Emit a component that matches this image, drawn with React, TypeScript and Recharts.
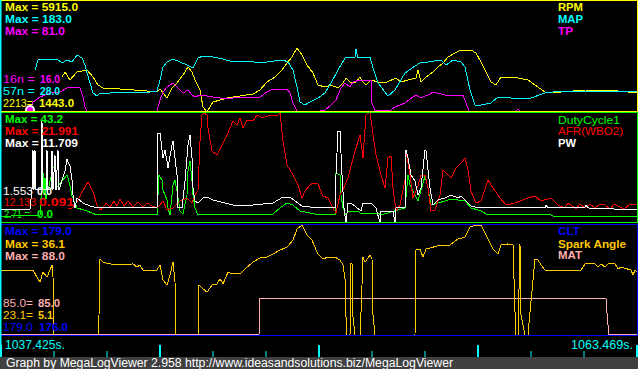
import { LineChart, Line, XAxis, YAxis } from "recharts";

type P = [number, number][];

// x = log record (about 0.082 s each), value in the channel's own units
const RPM: P = [
  [31, 3885], [32.5, 4235], [35, 3675], [38.5, 4235], [43.5, 4375], [46.5, 3885], [49, 3325], [51.5, 3115],
  [60, 3045], [73.5, 2905], [78.5, 2835], [80, 3045], [83.5, 2415], [86, 3115], [88.5, 3465], [91.5, 4025],
  [94, 4585], [96, 4235], [97.5, 3675], [100, 2975], [101.5, 1785], [103.5, 1435], [105, 1785], [106.5, 2135],
  [110, 2275], [113.5, 2415], [116.5, 2485], [126.5, 2695], [130, 2975], [133.5, 3535], [137.5, 3885],
  [141, 4375], [143.5, 4865], [146, 5285], [148.5, 5915], [151, 5425], [153.5, 4725], [156.5, 4165],
  [159, 3325], [162.5, 3185], [165.5, 3325], [169, 3115], [171.5, 3465], [173, 3815], [175, 3535],
  [177.5, 3465], [180, 3885], [181.5, 3535], [183, 3325], [185.5, 3675], [189, 3535], [192.5, 3465],
  [198, 3815], [200.5, 3535], [204, 3675], [208, 3815], [209, 4375], [210.5, 3535], [213, 3885], [216.5, 4235],
  [219, 4585], [221.5, 4865], [224, 5285], [227.5, 5565], [230.5, 5775], [235.5, 5775], [238, 5565],
  [240.5, 4935], [243, 4235], [245.5, 3535], [248, 3325], [250.5, 3885], [253, 3885], [259, 3815], [264, 3675],
  [267.5, 3325], [272.5, 2835], [280.5, 2835], [292.5, 2975], [309, 2905], [318.5, 2765],
];

const MAP: P = [
  [17.5, 128], [19, 154], [25, 156.6], [29, 154], [31, 146.2], [33.5, 154], [36, 148.8], [38.5, 167],
  [41, 159.2], [42.5, 141], [43.5, 120.2], [45, 94.2], [46.5, 68.2], [48.5, 60.4], [50, 68.2], [55, 68.2],
  [60, 70.8], [66.5, 70.8], [72, 68.2], [78.5, 73.4], [80, 102], [81.5, 135.8], [83.5, 148.8], [86.5, 156.6],
  [90, 148.8], [93.5, 141], [96.5, 133.2], [99, 159.2], [101.5, 164.4], [106.5, 161.8], [111.5, 156.6],
  [116.5, 148.8], [122, 151.4], [127, 148.8], [133.5, 148.8], [137, 151.4], [141.5, 154], [144, 148.8],
  [146.5, 128], [148.5, 83.8], [150, 44.8], [152.5, 37], [155, 44.8], [159, 55.2], [162.5, 68.2], [165.5, 94.2],
  [169, 128], [172.5, 159.2], [177.5, 161.8], [178, 182.6], [179, 159.2], [185, 161.8], [186.5, 133.2],
  [189, 94.2], [194, 60.4], [197.5, 76], [202.5, 120.2], [207.5, 138.4], [210, 146.2], [214, 148.8],
  [220.5, 154], [223, 141], [226.5, 154], [230.5, 148.8], [232.5, 135.8], [235, 76], [237.5, 37], [240.5, 37],
  [245.5, 42.2], [249, 57.8], [255.5, 55.2], [265.5, 55.2], [272.5, 68.2], [280.5, 73.4], [292.5, 70.8],
  [305, 73.4], [318.5, 70.8],
];

const TP: P = [
  [15, 2.6], [16.5, 23.4], [20, 36.4], [25, 46.8], [30, 49.4], [33.5, 59.8], [38.5, 62.4], [40, 59.8],
  [41.5, 36.4], [42.5, 10.4], [43.5, 0], [78.5, 0], [80, 28.6], [81.5, 49.4], [83.5, 62.4], [86.5, 72.8],
  [89, 59.8], [91.5, 46.8], [94, 54.6], [96, 41.6], [97.5, 36.4], [100, 41.6], [106.5, 36.4], [110, 33.8],
  [113.5, 31.2], [116.5, 33.8], [130, 36.4], [133.5, 49.4], [136.5, 57.2], [143.5, 57.2], [145, 46.8],
  [146.5, 20.8], [148.5, 0], [160, 0], [162.5, 2.6], [165.5, 15.6], [168, 28.6], [170.5, 59.8], [172.5, 72.8],
  [175, 62.4], [176.5, 75.4], [180, 80.6], [185.5, 80.6], [186, 20.8], [187.5, 0], [195.5, 2.6], [197.5, 10.4],
  [202.5, 20.8], [206.5, 36.4], [208, 41.6], [210, 33.8], [211.5, 36.4], [215, 44.2], [216.5, 49.4],
  [222.5, 41.6], [231.5, 41.6], [233, 20.8], [234.5, 0], [258, 0], [259, 5], [260, 0], [318.5, 0],
];

const DUTY: P = [
  [0, 2.71], [15, 3.3], [20, 3.3], [21, 17], [21.5, 20.85], [22, 12], [22.5, 18.77], [23, 10], [26.5, 22.9],
  [27.5, 23.8], [28.5, 15], [33.5, 20], [34, 18.77], [35, 15.4], [36, 11.3], [38.5, 6.3], [43.5, 5],
  [48.5, 3.34], [78.5, 3.34], [79.5, 20], [81, 17.9], [81.5, 13.8], [83.5, 9.6], [84, 6.3], [85, 3.34],
  [86.5, 15.8], [87.5, 17.9], [88.5, 13.3], [90, 5], [91.5, 3.75], [93.5, 11.7], [94, 21.7], [95, 25.9],
  [96, 17.5], [96.5, 11.7], [97.5, 6.3], [99, 3.34], [103.5, 3.75], [116.5, 3.34], [136.5, 3.75], [140, 6.3],
  [143.5, 8.3], [146.5, 7.5], [150, 5], [160, 3.34], [167.5, 3.34], [168, 20.85], [170, 20], [170.5, 11.7],
  [171.5, 6.3], [173, 3.34], [174, 5], [179, 5], [180.5, 3.75], [189, 4.2], [190.5, 3.34], [202.5, 6.3],
  [204, 20], [205, 15.8], [206.5, 13.3], [209, 9.2], [212.5, 19.6], [214, 14.6], [215.5, 7.5], [219, 8.3],
  [224, 9.6], [229, 9.6], [232.5, 9.2], [235.5, 6.3], [240.5, 5], [244, 3.34], [275.5, 3.34], [277.5, 2.5],
  [318.5, 2.9],
];

const AFR: P = [
  [34, 12.4], [36, 12.5], [38.5, 13.1], [41, 14.1], [44, 15.1], [46.5, 14.1], [48.5, 12.8], [50, 12.3],
  [51.5, 12.5], [53, 13], [55, 12.6], [57, 13.2], [58.5, 12.7], [60, 13.4], [62, 12.7], [64, 13.2],
  [66.5, 12.6], [69, 13.1], [71.5, 12.6], [73.5, 13], [76, 12.7], [78.5, 12.5], [80, 12.8], [81.5, 13.2],
  [83.5, 12.3], [86.5, 12.5], [90, 13.2], [93.5, 13.5], [96, 13], [97.5, 13.8], [99, 14.2], [100, 19.2],
  [101, 21.8], [102, 22], [103.5, 21.8], [104, 20.5], [106, 18.2], [108.5, 17.8], [111, 18.8], [113.5, 19.8],
  [115, 20.5], [116.5, 21.2], [118.5, 20.8], [120, 21.5], [121.5, 20.5], [123.5, 21.3], [126.5, 21.2],
  [128.5, 21.8], [131.5, 21.5], [135, 21.8], [138.5, 21.7], [140, 22], [141.5, 19.2], [143.5, 16.8],
  [146.5, 15.8], [149, 14.8], [151, 13.5], [152.5, 14.2], [155, 14.8], [156.5, 15], [159, 14.9], [161.5, 13.7],
  [164, 13.5], [166.5, 12.5], [168, 12], [170, 13.8], [171.5, 14.3], [174, 15.5], [177.5, 18.2], [180, 19.8],
  [181.5, 17.5], [183, 21.8], [185, 22.1], [186.5, 19.8], [188, 17.8], [190.5, 15.8], [192.5, 14.5],
  [194, 17.5], [195.5, 17.7], [196.5, 14.5], [198, 12.2], [200, 12.8], [202.5, 15.3], [203, 18.2], [205, 15.8],
  [206.5, 13.5], [209, 14.7], [210.5, 15.8], [212.5, 15.8], [214, 14.5], [215.5, 12.2], [217.5, 12.3],
  [220, 13.8], [221.5, 16.3], [224, 15.8], [225.5, 15.5], [228, 16.5], [230.5, 17], [232.5, 17.5],
  [234, 16.3], [235.5, 14.2], [238, 13], [240.5, 13.2], [244, 15.3], [246.5, 14.5], [250, 13.5], [253, 12.8],
  [257.5, 13], [264, 13.5], [267.5, 13.7], [270.5, 13.2], [275.5, 13.5], [279, 12.8], [282.5, 12.5],
  [284, 13], [285.5, 12.8], [288, 12.4], [290, 12.9], [292.5, 12.5], [295, 12.9], [297.5, 12.5], [300, 12.9],
  [302.5, 12.8], [305, 12.4], [307, 12.9], [309, 12.7], [312, 12.4], [315, 12.9], [318.5, 12.8],
];

const PW: P = [
  [0, 1.55], [15, 1.6], [16, 3.8], [16.5, 8.4], [17, 3.8], [17.5, 8.4], [18, 3.8], [20.5, 3.8], [21, 11.7],
  [21.5, 3.8], [23, 3.8], [23.5, 8.4], [24, 3.8], [25.5, 3.8], [26, 8.3], [26.5, 3.8], [27.5, 7.8], [28, 3.8],
  [29, 8.4], [29.5, 3.8], [32.5, 6], [33.5, 7.3], [35, 6.56], [36, 4.95], [36.5, 3.22], [37.5, 1.73],
  [38.5, 2.88], [41.5, 2.3], [45, 1.96], [48.5, 1.73], [78.5, 1.73], [79, 10.35], [80, 10.35], [81.5, 7.48],
  [82.5, 8.4], [83.5, 7.13], [84, 6.33], [86, 8.97], [86.5, 9.43], [87.5, 7.48], [88.5, 5.52], [89, 1.73],
  [91, 1.73], [92.5, 4.83], [94, 8.97], [95, 10.12], [96, 7.48], [96.5, 4.03], [97.5, 2.53], [99, 2.3],
  [101.5, 2.88], [103.5, 2.99], [106.5, 2.65], [116.5, 2.07], [126.5, 2.07], [136.5, 2.3], [141.5, 2.99],
  [145, 2.99], [147.5, 2.53], [151, 1.96], [159, 1.73], [167.5, 1.73], [168, 5.52], [169, 10.58], [170, 10.58],
  [171, 5.52], [172, 1.73], [173, 0], [174, 2.3], [175.5, 2.3], [180.5, 1.38], [181.5, 2.3], [185.5, 2.3],
  [188, 1.73], [190, 0], [190.5, 1.38], [196.5, 1.38], [197.5, 0], [198, 1.73], [202.5, 1.73], [203, 8.4],
  [204, 7.48], [205.5, 5.52], [207.5, 4.83], [209, 3.22], [210.5, 4.03], [212.5, 8.4], [213, 8.28], [215, 4.03],
  [216.5, 2.07], [219, 2.65], [222.5, 2.88], [225.5, 3.22], [229, 2.88], [230.5, 3.1], [233, 2.53],
  [235.5, 1.96], [239, 1.73], [272.5, 1.73], [273, 2.07], [274, 1.73], [292.5, 1.84], [293, 2.07], [294, 1.73],
  [318.5, 1.5],
];

const CLT: P = [[0, 176], [318.5, 176]];

const SPARK: P = [
  [0, 23.2], [16.5, 23.2], [18.5, 21.2], [20, 19.8], [21.5, 22.6], [23.5, 21.2], [25, 23.2], [26, 24.6],
  [26.5, 21.2], [27, 5], [49, 5], [49.5, 10.6], [50, 26.3], [51.5, 25.4], [55, 24.9], [60, 24.6], [66.5, 24.9],
  [68.5, 24], [70, 24.6], [71.5, 23.2], [78.5, 23.2], [80, 24.6], [81.5, 20.4], [83.5, 19], [85, 21.8],
  [86.5, 25.4], [87.5, 19.8], [88, 5], [99, 5], [99.5, 19], [101.5, 17.9], [103.5, 17], [106, 19],
  [108.5, 19.3], [110, 20.7], [111.5, 19.3], [114, 22.6], [116, 22.1], [120, 22.1], [122.5, 23.5],
  [126.5, 25.4], [130, 26.6], [133.5, 26.8], [136.5, 27.7], [140, 28.8], [143.5, 29.6], [146.5, 31.6],
  [148.5, 34.7], [151, 35.8], [153.5, 33], [156, 31.6], [158.5, 28.2], [159, 27.7], [161.5, 26.3], [164, 26.8],
  [167.5, 26.8], [170, 26], [171.5, 24.6], [172.5, 20.7], [173, 10], [173.5, 5], [175, 5], [175.5, 24.9],
  [176, 24.9], [176.5, 10], [177.5, 5], [180, 5], [180.5, 11.4], [181.5, 26.8], [182.5, 25.4], [185, 27.4],
  [186, 26.3], [186.5, 10.6], [187.5, 5], [207.5, 5], [208, 28.8], [210, 29.1], [211.5, 26.8], [213, 29.1],
  [216.5, 29.6], [220.5, 30.2], [225, 30.2], [229, 31.9], [232.5, 32.4], [235, 35.2], [237.5, 35.8],
  [240.5, 35.8], [244, 31.9], [246.5, 29.1], [249, 27.7], [250.5, 30.2], [254, 30.5], [256.5, 30.2],
  [257.5, 11.4], [258, 5], [259, 5], [260, 30.5], [260.5, 10.6], [262.5, 5], [264, 5], [265, 11.4],
  [267.5, 26.3], [269, 26], [270.5, 24.6], [272.5, 23.2], [290.5, 23.2], [292.5, 24.9], [297.5, 24.9],
  [299, 24], [300.5, 24.9], [302.5, 24], [304, 24.9], [307.5, 24.9], [309, 23.5], [310.5, 24], [315.5, 23.2],
  [316.5, 21.8], [317.5, 23.2], [318.5, 22.6],
];

const MAT: P = [[0, 84], [129.5, 84], [130, 85], [303, 85], [303.8, 84.4], [304.5, 84], [318.5, 84]];

const TICKS = [0, 1, 2, 3, 4, 5, 6, 7, 8, 9, 10, 11, 12];
const TIME_START = "1037.425s.";
const TIME_END = "1063.469s.";

const YEL = "#FFFF00";
const CYA = "#00FFFF";
const MAG = "#FF00FF";
const GRN = "#00FF00";
const RED = "#FF0000";
const WHT = "#FFFFFF";
const BLU = "#0000FF";
const ORA = "#FFC800";
const PNK = "#FFAFAF";

interface Series {
  id: string;
  data: P;
  color: string;
  domain: [number, number];
}

const pts = (a: P) => a.map(([r, v]) => ({ r, v }));

function Panel({ top, series }: { top: number; series: Series[] }) {
  return (
    <div style={{ position: "absolute", left: 0, top }}>
      <LineChart width={638} height={112} margin={{ top: 0, right: 0, bottom: 0, left: 0 }}>
        <XAxis dataKey="r" type="number" domain={[0, 319]} hide allowDataOverflow />
        {series.map((s) => (
          <YAxis key={"y" + s.id} yAxisId={s.id} type="number" domain={s.domain} hide allowDataOverflow />
        ))}
        {series.map((s) => (
          <Line
            key={s.id}
            yAxisId={s.id}
            data={pts(s.data)}
            dataKey="v"
            type="linear"
            stroke={s.color}
            strokeWidth={1}
            dot={false}
            shapeRendering="crispEdges"
            isAnimationActive={false}
          />
        ))}
      </LineChart>
    </div>
  );
}

const TimeTick = (props: any) => {
  const { x, y, payload } = props;
  const major = payload.value % 3 === 0;
  const h = major ? 12 : 6;
  return <rect x={major ? x - 1 : x - 0.5} y={y - h} width={major ? 2 : 1} height={h} fill={CYA} />;
};

function L({ x, y, c, w, b, size, children }: any) {
  return (
    <text
      x={x}
      y={y}
      fill={c}
      fontSize={size || 11}
      fontWeight={b ? 700 : 400}
      textLength={w}
      lengthAdjust="spacingAndGlyphs"
    >
      {children}
    </text>
  );
}

export default function App() {
  return (
    <div
      style={{
        position: "absolute",
        left: 0,
        top: 0,
        width: 638,
        height: 369,
        background: "#000",
        overflow: "hidden",
        fontFamily: "'Liberation Sans', Arial, sans-serif",
      }}
    >
      <Panel
        top={0}
        series={[
          { id: "rpm", data: RPM, color: YEL, domain: [1435, 9275] },
          { id: "map", data: MAP, color: CYA, domain: [18.8, 310] },
          { id: "tp", data: TP, color: MAG, domain: [-2.6, 288.6] },
        ]}
      />
      <Panel
        top={112}
        series={[
          { id: "duty", data: DUTY, color: GRN, domain: [-0.417, 46.29] },
          { id: "afr", data: AFR, color: RED, domain: [10.9, 22.1] },
          { id: "pw", data: PW, color: WHT, domain: [-0.115, 12.765] },
        ]}
      />
      <Panel
        top={224}
        series={[
          { id: "clt", data: CLT, color: BLU, domain: [175.97, 179.33] },
          { id: "mat", data: MAT, color: PNK, domain: [83.97, 87.08] },
          { id: "spark", data: SPARK, color: ORA, domain: [4.72, 36.08] },
        ]}
      />
      <div style={{ position: "absolute", left: 0, top: 336 }}>
        <LineChart width={638} height={22} data={TICKS.map((t) => ({ t }))} margin={{ top: 0, right: 1, bottom: 0, left: 1 }}>
          <XAxis
            dataKey="t"
            type="number"
            domain={[0, 12]}
            ticks={TICKS}
            interval={0}
            height={1}
            axisLine={false}
            tickLine={false}
            tickSize={0}
            tickMargin={0}
            tick={<TimeTick />}
          />
        </LineChart>
      </div>
      <svg width={638} height={369} style={{ position: "absolute", left: 0, top: 0, pointerEvents: "none" }}>
        <rect x={0.5} y={0.5} width={637} height={111} fill="none" stroke={YEL} />
        <rect x={0.5} y={112.5} width={637} height={110} fill="none" stroke={GRN} />
        <rect x={0.5} y={224.5} width={637} height={111} fill="none" stroke={BLU} />
        <rect x={0} y={0} width={1.5} height={357} fill={CYA} />

        <L x={5} y={11} c={YEL} w={73} b>Max = 5915.0</L>
        <L x={5} y={23} c={CYA} w={67} b>Max = 183.0</L>
        <L x={5} y={35} c={MAG} w={60} b>Max = 81.0</L>
        <L x={558} y={11} c={YEL} w={25} b>RPM</L>
        <L x={558} y={23} c={CYA} w={25} b>MAP</L>
        <L x={558} y={35} c={MAG} w={15} b>TP</L>
        <L x={3} y={83} c={MAG} w={32}>16n =</L>
        <L x={40} y={83} c={MAG} w={20} b>16.0</L>
        <L x={3} y={95} c={CYA} w={32}>57n =</L>
        <L x={40} y={95} c={CYA} w={20} b>28.0</L>
        <L x={3} y={107} c={YEL} w={30}>2213=</L>
        <L x={39} y={107} c={YEL} w={35} b>1443.0</L>

        <L x={5} y={123} c={GRN} w={58} b>Max = 43.2</L>
        <L x={5} y={135} c={RED} w={73} b>Max = 21.991</L>
        <L x={5} y={147} c={WHT} w={73} b>Max = 11.709</L>
        <L x={558} y={124} c={GRN} w={62}>DutyCycle1</L>
        <L x={558} y={135} c={RED} w={65}>AFR(WBO2)</L>
        <L x={558} y={147} c={WHT} w={18} b>PW</L>
        <L x={3} y={195} c={WHT} w={30}>1.553</L>
        <L x={37} y={195} c={WHT} w={15} b>0.0</L>
        <L x={4} y={206} c={RED} w={32}>12.133</L>
        <L x={39} y={206} c={RED} w={35} b>0.091</L>
        <L x={4} y={218} c={GRN} w={26}>2.71 =</L>
        <L x={37} y={218} c={GRN} w={16} b>0.0</L>

        <L x={5} y={235} c={BLU} w={67} b>Max = 179.0</L>
        <L x={5} y={248} c={ORA} w={60} b>Max = 36.1</L>
        <L x={5} y={260} c={PNK} w={60} b>Max = 88.0</L>
        <L x={558} y={235} c={BLU} w={22} b>CLT</L>
        <L x={558} y={248} c={ORA} w={68} b>Spark Angle</L>
        <L x={558} y={259} c={PNK} w={24} b>MAT</L>
        <L x={3} y={307} c={PNK} w={30}>85.0=</L>
        <L x={38} y={307} c={PNK} w={22} b>85.0</L>
        <L x={3} y={319} c={ORA} w={30}>23.1=</L>
        <L x={38} y={319} c={ORA} w={15} b>5.1</L>
        <L x={3} y={331} c={BLU} w={30}>179.0</L>
        <L x={39} y={331} c={BLU} w={29} b>176.0</L>

        <L x={5} y={349} c={CYA} w={60} size={13}>{TIME_START}</L>
        <L x={571} y={349} c={CYA} w={62} size={13}>{TIME_END}</L>

        <rect x={0} y={357} width={638} height={12} fill="#404040" />
        <L x={6} y={367} c={WHT} w={447} size={12}>
          Graph by MegaLogViewer 2.958 http://www.ideasandsolutions.biz/MegaLogViewer
        </L>
      </svg>
    </div>
  );
}
